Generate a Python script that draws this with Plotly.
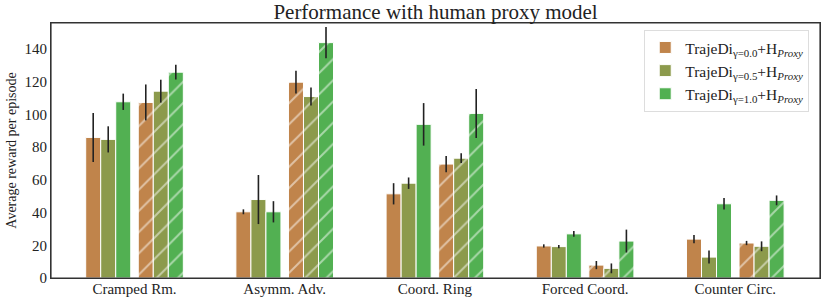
import plotly.graph_objects as go

categories = ["Cramped Rm.", "Asymm. Adv.", "Coord. Ring", "Forced Coord.", "Counter Circ."]

# Solid bars (first group of three per category)
solid_g00 = [86.0, 40.5, 51.5, 19.6, 23.8]
solid_g00_err = [15.0, 1.5, 6.5, 1.0, 2.5]
solid_g05 = [84.8, 48.0, 58.0, 19.2, 12.8]
solid_g05_err = [8.0, 15.0, 3.5, 1.0, 4.0]
solid_g10 = [107.8, 40.5, 94.0, 27.0, 45.4]
solid_g10_err = [5.0, 6.5, 13.0, 1.8, 3.5]

# Hatched bars (second group of three per category)
hatch_g00 = [107.4, 119.8, 69.7, 7.9, 21.4]
hatch_g00_err = [11.0, 7.0, 5.0, 2.5, 1.3]
hatch_g05 = [114.3, 111.0, 73.3, 5.9, 19.4]
hatch_g05_err = [7.0, 5.5, 3.0, 3.0, 3.0]
hatch_g10 = [125.9, 144.0, 100.7, 22.6, 47.5]
hatch_g10_err = [4.5, 9.5, 15.0, 7.0, 3.0]

legend_names = [
    "TrajeDi<sub>γ=0.0</sub>+H<sub><i>Proxy</i></sub>",
    "TrajeDi<sub>γ=0.5</sub>+H<sub><i>Proxy</i></sub>",
    "TrajeDi<sub>γ=1.0</sub>+H<sub><i>Proxy</i></sub>",
]
colors = ["#C0844B", "#8C9A4C", "#52B052"]

FONT = "Liberation Serif"
fig = go.Figure()

solid = [(solid_g00, solid_g00_err), (solid_g05, solid_g05_err), (solid_g10, solid_g10_err)]
hatch = [(hatch_g00, hatch_g00_err), (hatch_g05, hatch_g05_err), (hatch_g10, hatch_g10_err)]
solid_off = [-0.275, -0.175, -0.075]
hatch_off = [0.075, 0.175, 0.275]
width = 0.1

for k, (vals, errs) in enumerate(solid):
    fig.add_trace(go.Bar(
        x=[i + solid_off[k] for i in range(len(categories))], y=vals, width=width,
        name=legend_names[k],
        marker=dict(color=colors[k], line=dict(color="white", width=1)),
        error_y=dict(type="data", array=errs, width=0, thickness=1.6, color="#222222"),
        showlegend=True,
    ))
for k, (vals, errs) in enumerate(hatch):
    fig.add_trace(go.Bar(
        x=[i + hatch_off[k] for i in range(len(categories))], y=vals, width=width,
        name=legend_names[k],
        marker=dict(color=colors[k], line=dict(color="white", width=1),
                    pattern=dict(shape="/", fgcolor="white", bgcolor=colors[k],
                                 size=15, solidity=0.13, fillmode="overlay")),
        error_y=dict(type="data", array=errs, width=0, thickness=1.6, color="#222222"),
        showlegend=False,
    ))

fig.update_layout(
    width=830, height=305,
    margin=dict(l=51, r=10, t=23, b=27, autoexpand=False),
    barmode="overlay",
    plot_bgcolor="white", paper_bgcolor="white",
    font=dict(family=FONT, size=14, color="#222222"),
    title=dict(text="Performance with human proxy model", x=435.5 / 830, xanchor="center",
               y=0.962, yanchor="middle", font=dict(family=FONT, size=21, color="#222222")),
    xaxis=dict(range=[-0.556, 4.564], tickvals=list(range(len(categories))), ticktext=categories,
               showgrid=False, zeroline=False, showline=True, linecolor="#333333", linewidth=1.2,
               mirror=True, ticks="", tickfont=dict(size=15), automargin=False,
               ticklabelstandoff=-3),
    yaxis=dict(range=[0, 156], tickvals=[0, 20, 40, 60, 80, 100, 120, 140],
               showgrid=False, zeroline=False, showline=True, linecolor="#333333", linewidth=1.2,
               mirror=True, ticks="", tickfont=dict(size=15), automargin=False,
               title=dict(text="Average reward per episode", font=dict(size=14), standoff=4)),
    legend=dict(x=0.986, xanchor="right", y=0.973, yanchor="top",
                bgcolor="rgba(255,255,255,0.8)", bordercolor="#dddddd", borderwidth=1,
                font=dict(size=15.5), tracegroupgap=0, itemwidth=30),
    shapes=[dict(type="rect", xref="paper", yref="paper", x0=0, x1=1, y0=0, y1=1,
                 line=dict(color="#333333", width=1.2), fillcolor="rgba(0,0,0,0)", layer="above")],
)

fig.write_html("out.html", config={"displayModeBar": False},
               post_script="document.body.style.margin='0px';")
